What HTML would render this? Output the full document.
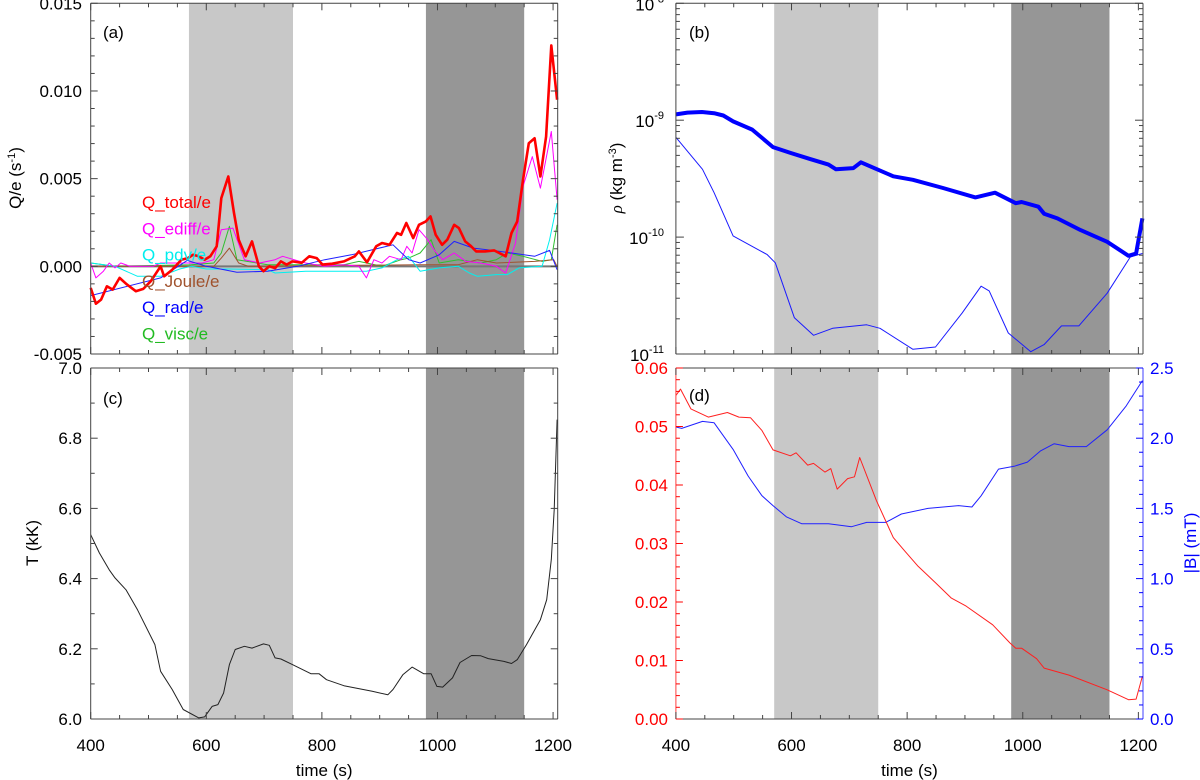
<!DOCTYPE html>
<html><head><meta charset="utf-8"><style>
html,body{margin:0;padding:0;background:#fff;}
svg{display:block;font-family:"Liberation Sans",Arial,sans-serif;}
</style></head><body>
<svg id="fig" width="1200" height="780" viewBox="0 0 1200 780" xmlns="http://www.w3.org/2000/svg"></svg>
<script>
// ---- data ----
const tickTimes=[400,600,800,1000,1200];
const bandLight=[570,750];
const bandDark=[980,1150];
// panel (a) Q/e in units of 1e-3 s^-1
const tTot=[400,409,418,428,438,450,461,478,491,504,521,527,541,557,568,577,587,597,607,618,626,638,648,656,668,679,691,699,709,719,729,739,749,765,778,791,801,818,838,857,864,878,894,904,917,930,937,946,958,968,980,988,997,1008,1017,1029,1037,1048,1057,1067,1082,1098,1118,1128,1138,1148,1158,1168,1178,1188,1197,1207];
const qTot=[-1.23,-2.13,-1.9,-1.14,-1.33,-0.66,-0.99,-1.42,-1.29,-0.85,0,-0.57,-0.2,0.38,0.47,0.66,0.57,0.38,0.57,1.14,3.89,5.12,3.04,1.52,0.57,1.42,0,-0.28,0,-0.1,0.28,0.1,0.28,0.2,0.57,0.47,0.1,0.15,0.28,0.57,0.85,0.23,1.14,1.33,1.23,1.9,1.8,2.47,1.61,2.37,2.56,2.85,1.8,1.23,1.52,2.37,2.18,1.42,1.18,0.85,0.85,0.91,0.57,1.9,2.56,4.93,7.02,7.3,5.12,7.4,12.6,9.5];
const tEdiff=[400,409,422,432,442,452,468,508,521,527,554,593,613,626,646,666,692,719,732,752,772,805,838,864,877,890,904,917,937,947,956,968,983,996,1009,1029,1049,1075,1102,1118,1135,1148,1164,1178,1197,1207];
const qEdiff=[0.19,-0.66,-0.28,0.19,-0.09,0.19,0,0,0.19,0.19,0.19,0.19,0.38,2.09,2.18,0.38,0.19,0.38,0.57,0.38,0.19,0,0.09,0,-0.66,0.38,0.19,0.57,0.38,1.14,0.76,2.09,1.52,0.85,0.38,0.76,0.28,0.19,0,-0.38,1.33,4.55,6.26,4.46,7.69,3.8];
const tPdv=[400,442,481,521,554,574,600,640,706,719,772,838,877,904,930,950,970,1003,1036,1055,1069,1102,1121,1141,1181,1194,1207];
const qPdv=[0.19,0,-0.57,-0.57,-0.15,0,-0.15,-0.15,-0.19,-0.38,-0.28,-0.28,-0.28,-0.09,0.38,0.57,-0.28,-0.09,0,-0.38,-0.57,-0.47,-0.47,-0.09,0,1.52,3.6];
const tVisc=[400,442,574,613,626,640,653,706,838,864,904,937,950,970,989,1003,1036,1075,1102,1121,1148,1181,1197,1207];
const qVisc=[0.19,0,0.09,0.19,0.76,2.28,0.38,0.09,0.09,0.28,0,0.38,0.47,0.76,1.52,0.19,0.38,0.19,0.38,0.76,0.57,0.28,0.38,2.37];
const tJoule=[400,613,626,640,656,673,970,1036,1069,1102,1168,1201,1207];
const qJoule=[0,0,0.47,1.04,0.19,0,0.09,0.09,0.38,0.19,0.28,0.38,0];
const tRad=[400,521,567,600,653,706,758,805,851,923,950,970,1003,1029,1062,1095,1128,1168,1194,1207];
const qRad=[-1.67,-0.66,0.34,0,-0.34,-0.28,0,0.38,0.66,1.23,0.38,0.19,0.66,1.42,1.04,0.91,0.76,0.57,0.91,-0.19];
// panel (b) log10 density
const tRhoA=[400,420,445,466,482,499,532,568,598,631,664,677,707,720,743,776,810,862,918,952,988,998,1027,1037,1060,1100,1146,1183,1196,1207];
const lgRhoA=[-8.95,-8.935,-8.93,-8.94,-8.96,-9.01,-9.08,-9.23,-9.28,-9.33,-9.38,-9.42,-9.41,-9.36,-9.41,-9.48,-9.51,-9.58,-9.66,-9.62,-9.71,-9.70,-9.74,-9.80,-9.84,-9.94,-10.04,-10.16,-10.14,-9.84];
const tRhoB=[400,446,466,499,558,572,605,638,671,730,753,810,849,895,928,942,975,1014,1037,1067,1097,1146,1186,1207];
const lgRhoB=[-9.146,-9.42,-9.62,-9.99,-10.15,-10.22,-10.69,-10.84,-10.78,-10.75,-10.78,-10.96,-10.94,-10.65,-10.42,-10.46,-10.82,-10.98,-10.92,-10.76,-10.76,-10.48,-10.17,-10.14];
// panel (c) temperature kK
const tTemp=[400,415,432,442,461,481,511,521,541,560,587,597,610,620,630,640,650,666,679,699,709,719,729,749,781,795,808,838,887,914,923,940,956,976,989,999,1009,1026,1039,1059,1075,1088,1115,1128,1138,1154,1178,1189,1197,1202,1207];
const temp=[6.525,6.473,6.425,6.402,6.368,6.311,6.212,6.136,6.084,6.027,6.003,6.006,6.036,6.041,6.074,6.155,6.198,6.207,6.202,6.214,6.21,6.174,6.171,6.155,6.129,6.129,6.112,6.095,6.079,6.069,6.084,6.126,6.148,6.129,6.129,6.093,6.091,6.117,6.161,6.181,6.18,6.172,6.164,6.158,6.169,6.212,6.283,6.34,6.454,6.596,6.853];
// panel (d)
const tRed=[400,408,426,456,489,509,529,549,568,598,608,628,638,658,668,679,697,709,718,747,776,796,819,849,876,902,948,978,988,998,1024,1037,1080,1146,1183,1196,1207];
const redVal=[0.0553,0.0564,0.0530,0.0516,0.0524,0.0516,0.0515,0.0493,0.0460,0.0450,0.0455,0.0434,0.0437,0.0422,0.0428,0.0393,0.0411,0.0414,0.0447,0.0373,0.0310,0.0287,0.0261,0.0233,0.0207,0.0193,0.0161,0.0130,0.0121,0.0121,0.0103,0.0087,0.0075,0.0050,0.0033,0.0034,0.0073];
const tB=[400,410,446,466,499,525,549,568,591,618,664,704,730,763,790,836,889,912,928,958,985,1008,1031,1054,1080,1110,1146,1179,1207];
const bVal=[2.08,2.07,2.12,2.11,1.92,1.73,1.59,1.52,1.44,1.39,1.39,1.37,1.40,1.40,1.46,1.50,1.52,1.51,1.59,1.78,1.80,1.83,1.91,1.96,1.94,1.94,2.06,2.23,2.41];

// ---- drawing ----
const NS='http://www.w3.org/2000/svg';
const svg=document.getElementById('fig');
const FS=17;
function mk(tag,attrs,parent){const e=document.createElementNS(NS,tag);for(const k in attrs)e.setAttribute(k,attrs[k]);(parent||svg).appendChild(e);return e;}
const T0=400,T1=1208;
const PA={l:90.7,r:557.7,t:3.3,b:354};
const PB={l:675.9,r:1143,t:3.3,b:354};
const PC={l:90.7,r:557.7,t:368,b:719};
const PD={l:675.9,r:1143,t:368,b:719};
function xs(p,t){return p.l+(t-T0)/(T1-T0)*(p.r-p.l);}
function ys(p,v,lo,hi){return p.b-(v-lo)/(hi-lo)*(p.b-p.t);}
function pathD(p,ts,vs,lo,hi){return ts.map((t,i)=>(i?'L':'M')+xs(p,t).toFixed(1)+','+ys(p,vs[i],lo,hi).toFixed(1)).join('');}
function bands(p,name){
  let r=mk('rect',{x:xs(p,bandLight[0]),y:p.t,width:xs(p,bandLight[1])-xs(p,bandLight[0]),height:p.b-p.t,fill:'#c8c8c8'});
  
  
  let d=mk('rect',{x:xs(p,bandDark[0]),y:p.t,width:xs(p,bandDark[1])-xs(p,bandDark[0]),height:p.b-p.t,fill:'#969696'});
  
  
}
function xTicks(p,name,labels){
  const g=mk('g',{stroke:'#444','stroke-width':1});
  
  
  for(let t=400;t<=1200;t+=50){
    const x=xs(p,t),len=(t%200===0)?7:4;
    mk('line',{x1:x,x2:x,y1:p.b,y2:p.b-len},g);
    mk('line',{x1:x,x2:x,y1:p.t,y2:p.t+len},g);
  }
  if(labels){
    tickTimes.forEach(t=>{
      const tx=mk('text',{x:xs(p,t),y:751,'font-size':FS,'text-anchor':'middle',fill:'#000'});
      tx.textContent=String(t);
      
      
    });
    const tl=mk('text',{x:(p.l+p.r)/2,y:776,'font-size':FS,'text-anchor':'middle',fill:'#000'});
    tl.textContent='time (s)';
    
    
  }
}
function frame(p,name,lc,rc){
  mk('line',{x1:p.l,x2:p.r,y1:p.b,y2:p.b,stroke:'#444'});
  mk('line',{x1:p.l,x2:p.r,y1:p.t,y2:p.t,stroke:'#444'});
  const a=mk('line',{x1:p.l,x2:p.l,y1:p.t,y2:p.b,stroke:lc||'#444'});
  
  
  const b=mk('line',{x1:p.r,x2:p.r,y1:p.t,y2:p.b,stroke:rc||'#444'});
  
  
}
function yTicksLin(p,lo,hi,maj,minr,side,color,labelFmt,labX){
  const g=mk('g',{stroke:color,'stroke-width':1});
  
  
  const n=Math.round((hi-lo)/minr);
  for(let i=0;i<=n;i++){
    const v=lo+i*minr,y=ys(p,v,lo,hi);
    const isMaj=Math.abs(v/maj-Math.round(v/maj))<1e-6;
    const len=isMaj?7:4;
    if(side!=='right')mk('line',{x1:p.l,x2:p.l+len,y1:y,y2:y},g);
    if(side!=='left')mk('line',{x1:p.r,x2:p.r-len,y1:y,y2:y},g);
    if(isMaj&&labelFmt){
      const anchor=side==='right'?'start':'end';
      const tx=mk('text',{x:labX,y:y+6,'font-size':FS,'text-anchor':anchor,fill:color==='#444'?'#000':color,stroke:'none'});
      tx.textContent=labelFmt(v);
      
      
    }
  }
}
function series(p,ts,vs,lo,hi,color,w,name){
  const e=mk('path',{d:pathD(p,ts,vs,lo,hi),fill:'none',stroke:color,'stroke-width':w,'stroke-linejoin':'round'});
  
  
}
function label(x,y,txt,name){const e=mk('text',{x:x,y:y,'font-size':FS,fill:'#000'});e.textContent=txt;}

// ===== panel a =====
bands(PA,'panel-a');
const QLO=-5,QHI=15;
const zl=mk('line',{x1:PA.l,x2:PA.r,y1:ys(PA,0,QLO,QHI),y2:ys(PA,0,QLO,QHI),stroke:'#777','stroke-width':2});


series(PA,tVisc,qVisc,QLO,QHI,'#2fbf2f',1,'q-visc-line');
series(PA,tJoule,qJoule,QLO,QHI,'#a0522d',1,'q-joule-line');
series(PA,tPdv,qPdv,QLO,QHI,'#00f0f0',1,'q-pdv-line');
series(PA,tEdiff,qEdiff,QLO,QHI,'#ff00ff',1,'q-ediff-line');
series(PA,tRad,qRad,QLO,QHI,'#2020ff',1,'q-rad-line');
series(PA,tTot,qTot,QLO,QHI,'#ff0000',2.6,'q-total-line');
frame(PA,'panel-a');
xTicks(PA,'panel-a',false);
yTicksLin(PA,QLO,QHI,5,1,'both','#444',v=>(v/1000).toFixed(3),82);
label(103,38,'(a)','panel-a-label');
const legItems=[['Q_total/e','#ff0000'],['Q_ediff/e','#ff00ff'],['Q_pdv/e','#00eeee'],['Q_Joule/e','#a0522d'],['Q_rad/e','#0000ff'],['Q_visc/e','#22bb22']];
legItems.forEach((it,i)=>{
  const e=mk('text',{x:142,y:208+i*26.3,'font-size':17,fill:it[1]});
  e.textContent=it[0];
  
  
});
let yt=mk('text',{transform:'translate(21,178) rotate(-90)','font-size':FS,'text-anchor':'middle',fill:'#000'});
yt.innerHTML='Q/e (s<tspan font-size="11" dy="-6">-1</tspan><tspan dy="6">)</tspan>';



// ===== panel b =====
bands(PB,'panel-b');
const LLO=-11,LHI=-8;
series(PB,tRhoB,lgRhoB,LLO,LHI,'#1a1aff',1,'rho-thin-line');
series(PB,tRhoA,lgRhoA,LLO,LHI,'#0000ff',4,'rho-thick-line');
frame(PB,'panel-b');
xTicks(PB,'panel-b',false);
(function(){
  const g=mk('g',{stroke:'#444'});
  
  
  for(let d=-11;d<=-8;d++){
    for(let m=1;m<=9;m++){
      if(d===-8&&m>1)break;
      const y=ys(PB,d+Math.log10(m),LLO,LHI),len=m===1?8:4;
      mk('line',{x1:PB.l,x2:PB.l+len,y1:y,y2:y},g);
      mk('line',{x1:PB.r,x2:PB.r-len,y1:y,y2:y},g);
    }
    const y=ys(PB,d,LLO,LHI);
    const tx=mk('text',{x:664,y:y+7,'font-size':FS,'text-anchor':'end',fill:'#000'});
    tx.innerHTML='10<tspan font-size="11" dy="-8">'+d+'</tspan>';
    
    
  }
})();
label(689,38,'(b)','panel-b-label');
yt=mk('text',{transform:'translate(622,178) rotate(-90)','font-size':FS,'text-anchor':'middle',fill:'#000'});
yt.innerHTML='<tspan font-style="italic" font-family="Liberation Serif">ρ</tspan> (kg m<tspan font-size="11" dy="-6">-3</tspan><tspan dy="6">)</tspan>';



// ===== panel c =====
bands(PC,'panel-c');
series(PC,tTemp,temp,6.0,7.0,'#222',1,'temperature-line');
frame(PC,'panel-c');
xTicks(PC,'panel-c',true);
yTicksLin(PC,6.0,7.0,0.2,0.1,'both','#444',v=>v.toFixed(1),82);
label(103,404,'(c)','panel-c-label');
yt=mk('text',{transform:'translate(38,543) rotate(-90)','font-size':FS,'text-anchor':'middle',fill:'#000'});
yt.textContent='T (kK)';



// ===== panel d =====
bands(PD,'panel-d');
series(PD,tB,bVal,0,2.5,'#2020ff',1,'b-field-line');
series(PD,tRed,redVal,0,0.06,'#ff2020',1,'red-series-line');
frame(PD,'panel-d','#ff4040','#4040ff');
xTicks(PD,'panel-d',true);
yTicksLin(PD,0,0.06,0.01,0.002,'left','#ff0000',v=>v.toFixed(2),668);
yTicksLin(PD,0,2.5,0.5,0.1,'right','#0000ff',v=>v.toFixed(1),1150);
label(689,401,'(d)','panel-d-label');
yt=mk('text',{transform:'translate(1196,543) rotate(-90)','font-size':FS,'text-anchor':'middle',fill:'#0000ff'});
yt.textContent='|B| (mT)';


</script>
</body></html>
